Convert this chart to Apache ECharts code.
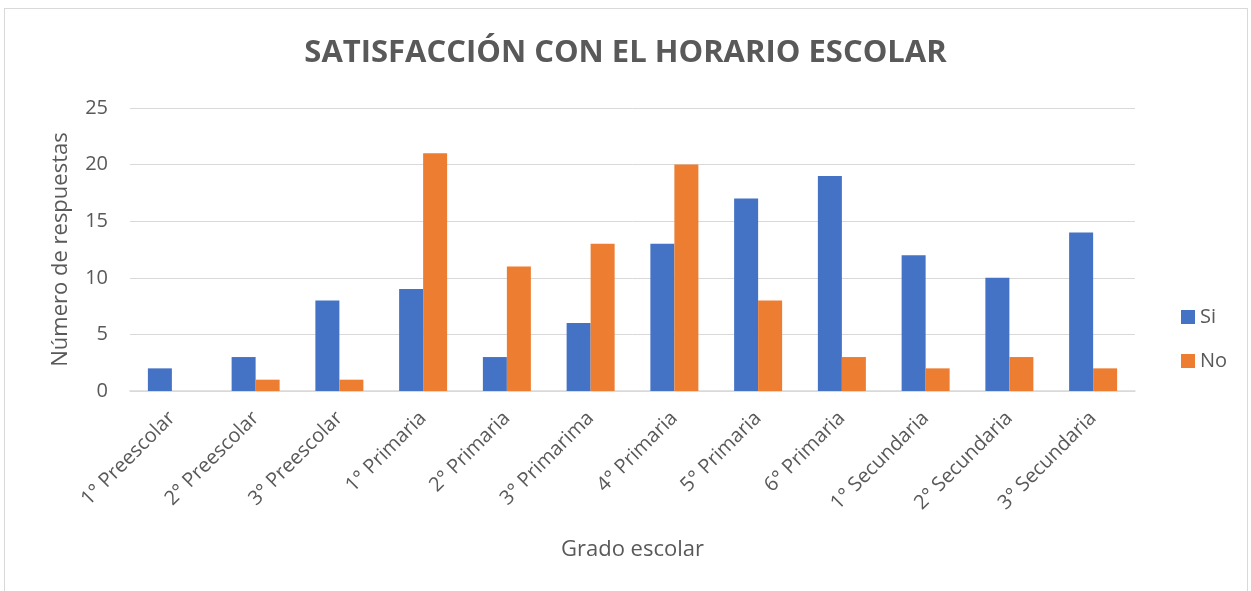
<!DOCTYPE html>
<html>
<head>
<meta charset="utf-8">
<script src="https://cdn.jsdelivr.net/npm/echarts@6/dist/echarts.min.js"></script>
<style>
  html, body { margin: 0; padding: 0; background: #fff; }
  #frame { position: absolute; left: 4px; top: 8px; width: 1244px; height: 590px; border: 1px solid #d9d9d9; box-sizing: border-box; }
  #chart { position: absolute; left: 0; top: 0; width: 1251px; height: 591px; }
</style>
</head>
<body>
<div id="frame"></div>
<div id="chart"></div>
<script>
  /* Satisfacción con el horario escolar: Si / No por grado */
  var categories = ["1° Preescolar", "2° Preescolar", "3° Preescolar", "1° Primaria", "2° Primaria", "3° Primarima",
    "4° Primaria", "5° Primaria", "6° Primaria", "1° Secundaria", "2° Secundaria", "3° Secundaria"];
  var siValues = [2, 3, 8, 9, 3, 6, 13, 17, 19, 12, 10, 14];
  var noValues = [0, 1, 1, 21, 11, 13, 20, 8, 3, 2, 3, 2];
  var yTicks = { min: 0, max: 25, interval: 5 };

  var FONT = "'Open Sans', 'Liberation Sans', sans-serif";
  var GREY = "#595959";
  var chart = echarts.init(document.getElementById("chart"));
  chart.setOption({
    animation: false,
    textStyle: { fontFamily: FONT },
    title: {
      text: "SATISFACCIÓN CON EL HORARIO ESCOLAR",
      left: "center", top: 33,
      textStyle: { fontFamily: FONT, fontSize: 31, fontWeight: "bold", color: GREY }
    },
    legend: {
      orient: "vertical", left: 1176, top: 302, itemWidth: 14, itemHeight: 14, itemGap: 24,
      icon: "rect",
      textStyle: { fontSize: 20, color: GREY, fontFamily: FONT }
    },
    grid: { left: 130, right: 116, top: 108, bottom: 200, containLabel: false },
    xAxis: {
      type: "category", data: categories,
      name: "Grado escolar", nameLocation: "middle", nameGap: 148,
      nameTextStyle: { fontSize: 22, color: GREY, fontFamily: FONT },
      axisLine: { lineStyle: { color: "#d9d9d9", width: 1.5 } },
      axisTick: { show: false },
      axisLabel: { rotate: 45, fontSize: 20, color: GREY, margin: 24, interval: 0 }
    },
    yAxis: {
      type: "value", min: yTicks.min, max: yTicks.max, interval: yTicks.interval,
      name: "Número de respuestas", nameLocation: "middle", nameGap: 58,
      nameTextStyle: { fontSize: 22, color: GREY, fontFamily: FONT },
      axisLine: { show: false }, axisTick: { show: false },
      axisLabel: { fontSize: 20, color: GREY, margin: 22 },
      splitLine: { lineStyle: { color: "#d9d9d9", width: 1 } }
    },
    series: [
      { name: "Si", type: "bar", data: siValues, barWidth: 24, barGap: "0%", barCategoryGap: "43%",
        itemStyle: { color: "#4472C4" } },
      { name: "No", type: "bar", data: noValues, barWidth: 24, barGap: "0%",
        itemStyle: { color: "#ED7D31" } }
    ]
  });
</script>
</body>
</html>
